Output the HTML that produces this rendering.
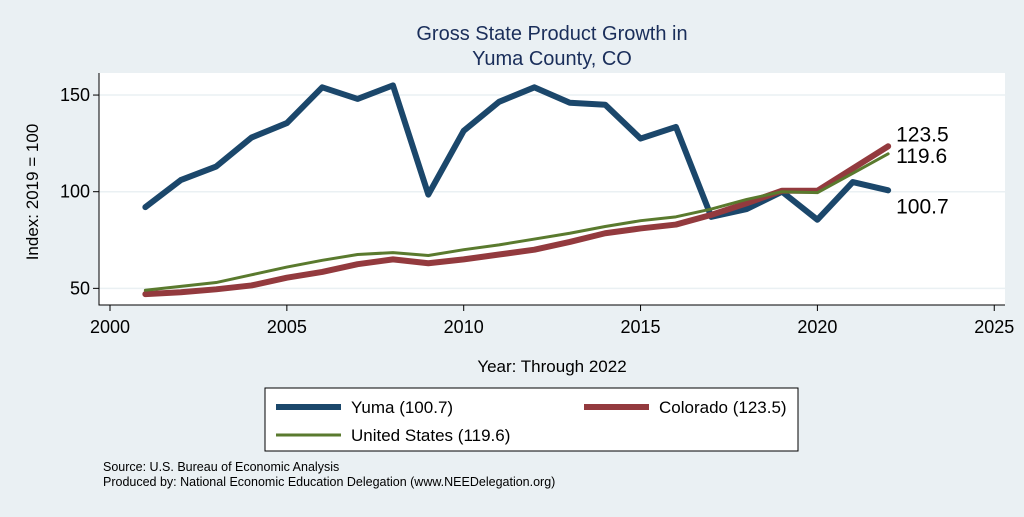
<!DOCTYPE html>
<html><head><meta charset="utf-8"><style>
body{margin:0;background:#eaf0f3;font-family:"Liberation Sans",sans-serif;}
svg text{font-family:"Liberation Sans",sans-serif;}
</style></head><body>
<svg id="c" width="1024" height="512" xmlns="http://www.w3.org/2000/svg">
<rect width="1024" height="512" fill="#eaf0f3"/>
<text x="552" y="40" font-size="20" fill="#1a2e5a" text-anchor="middle">Gross State Product Growth in</text>
<text x="552" y="65" font-size="20" fill="#1a2e5a" text-anchor="middle">Yuma County, CO</text>
<rect x="99" y="73" width="906" height="232" fill="#fff"/>
<g id="grid"></g><g id="axes"></g><g id="series"></g><g id="labels"></g>
<text x="552" y="372" font-size="17" fill="#000" text-anchor="middle">Year: Through 2022</text>
<text transform="translate(38,192) rotate(-90)" font-size="17" fill="#000" text-anchor="middle">Index: 2019 = 100</text>
<g>
<rect x="265" y="388" width="533" height="63" fill="#fff" stroke="#000" stroke-width="1"/>
<line x1="276" y1="407" x2="341" y2="407" stroke="#1b476b" stroke-width="6"/>
<text x="351" y="413" font-size="17">Yuma  (100.7)</text>
<line x1="584" y1="407" x2="649" y2="407" stroke="#933a3e" stroke-width="6"/>
<text x="659" y="413" font-size="17">Colorado (123.5)</text>
<line x1="276" y1="435" x2="341" y2="435" stroke="#5a7a2e" stroke-width="3"/>
<text x="351" y="441" font-size="17">United States (119.6)</text>
</g>
<text x="103" y="471" font-size="12.5">Source: U.S. Bureau of Economic Analysis</text>
<text x="103" y="486" font-size="12.5">Produced by: National Economic Education Delegation (www.NEEDelegation.org)</text>
</svg>
<script>
const years=[2001,2002,2003,2004,2005,2006,2007,2008,2009,2010,2011,2012,2013,2014,2015,2016,2017,2018,2019,2020,2021,2022];
const yuma=[92,106,113,128,135.5,154,148,155,98.5,131.5,146.5,154,146,145,127.5,133.5,87,91,100,85.5,105,100.7];
const colorado=[47,48,49.5,51.5,55.5,58.5,62.5,65,63,65,67.5,70,74,78.5,81,83,88,94,100.5,100.5,112,123.5];
const us=[49,51,53,57,61,64.5,67.5,68.5,67,70,72.5,75.5,78.5,82,85,87,91,96,100,99.5,109.5,119.6];
const xTicks=[2000,2005,2010,2015,2020,2025];
const yTicks=[50,100,150];
const NS="http://www.w3.org/2000/svg";
const X=v=>110+(v-2000)*35.37;
const Y=v=>191.7-(v-100)*1.933;
function mk(t,a,p){const e=document.createElementNS(NS,t);for(const k in a)e.setAttribute(k,a[k]);document.getElementById(p).appendChild(e);return e;}
yTicks.forEach(v=>{
 const g=mk('line',{x1:99,x2:1005,y1:Y(v),y2:Y(v),stroke:'#eaf0f3','stroke-width':1.5},'grid');
 
 
 const t=mk('line',{x1:93,x2:99,y1:Y(v),y2:Y(v),stroke:'#000'},'axes');
 
 
 const l=mk('text',{x:90,y:Y(v)+6,'font-size':18,'text-anchor':'end'},'axes');l.textContent=v;
 
 
});
xTicks.forEach(v=>{
 const t=mk('line',{x1:X(v),x2:X(v),y1:305,y2:311,stroke:'#000'},'axes');
 
 
 const l=mk('text',{x:X(v),y:333,'font-size':18,'text-anchor':'middle'},'axes');l.textContent=v;
 
 
});
const ax=mk('path',{d:'M99,73 V305 H1005',fill:'none',stroke:'#000','stroke-width':1},'axes');


function line(data,color,w,name){
 const p=mk('polyline',{points:data.map((v,i)=>X(years[i])+','+Y(v)).join(' '),fill:'none',stroke:color,'stroke-width':w,'stroke-linejoin':'round','stroke-linecap':'round'},'series');
 
 
}
line(yuma,'#1b476b',6,'line-yuma');
line(colorado,'#933a3e',6,'line-colorado');
line(us,'#5a7a2e',3,'line-us');
function lab(v,dy,name){
 const l=mk('text',{x:X(2022)+8,y:Y(v)+dy,'font-size':21},'labels');l.textContent=v.toFixed(1);
 
 
}
lab(colorado[21],-5,'label-colorado');
lab(us[21],9,'label-us');
lab(yuma[21],23,'label-yuma');
</script>
</body></html>
